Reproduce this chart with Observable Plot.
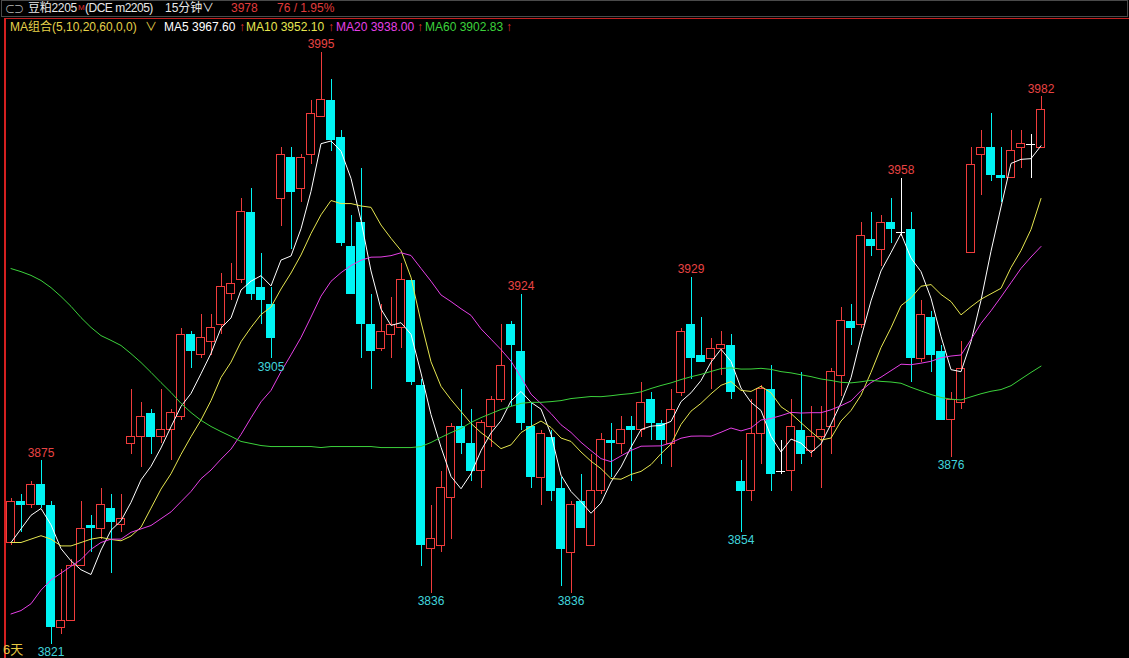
<!DOCTYPE html>
<html>
<head>
<meta charset="utf-8">
<script src="https://cdn.jsdelivr.net/npm/d3@7"></script>
<script src="https://cdn.jsdelivr.net/npm/@observablehq/plot@0.6"></script>
<style>
  html, body { margin: 0; padding: 0; background: #000; }
  body { width: 1129px; height: 658px; position: relative; overflow: hidden;
         font-family: "Liberation Sans", "Noto Sans CJK SC", sans-serif; font-size: 12px; }
  .t { position: absolute; white-space: nowrap; line-height: 13px; }
  #bar { position: absolute; left: 1px; top: 0; width: 1125px; height: 15px; border: 1px solid #4a4a4a; }
  #hline { position: absolute; left: 4px; top: 18px; width: 1125px; height: 1px; background: #c42020; }
  #vline { position: absolute; left: 4px; top: 18px; width: 2px; height: 640px; background: #d42020; }
  #chart { position: absolute; left: 0; top: 36px; }
</style>
</head>
<body>
<div id="bar"></div>
<div id="hline"></div>
<div id="vline"></div>
<div id="header"></div>
<div id="chart"></div>
<script>
// 15-minute bars, soybean meal m2205
const opens = [3851,3863,3862,3868,3862,3826,3828,3844,3856,3855, 3861,3856,3880,3882,3889,3882,3884,3888,3912,3906,
  3910,3915,3924,3928,3948,3926,3921,3952,3964,3955, 3965,3976,3981,3970,3938,3945,3915,3908,3912,3914,
  3928,3897,3849,3850,3864,3885,3880,3872,3885,3893, 3915,3907,3885,3870,3882,3867,3848,3863,3850,3866,
  3881,3880,3885,3884,3893,3886,3880,3895,3915,3906, 3905,3908,3909,3869,3866,3883,3896,3872,3872,3884,
  3878,3882,3885,3900,3916,3915,3940,3937,3945,3942, 3943,3905,3917,3907,3887,3892,3936,3965,3967,3959,
  3958,3967,3968,3967];
const highs = [3864,3865,3869,3875,3863,3843,3846,3863,3859,3867, 3865,3865,3896,3892,3890,3896,3890,3914,3913,3918,
  3918,3930,3933,3952,3955,3936,3926,3967,3967,3965, 3981,3995,3987,3972,3947,3961,3924,3921,3923,3933,
  3928,3899,3862,3872,3886,3896,3890,3887,3894,3915, 3916,3924,3892,3884,3884,3870,3863,3871,3877,3883,
  3886,3888,3888,3898,3895,3887,3896,3914,3929,3917, 3911,3913,3912,3875,3893,3897,3903,3881,3893,3901,
  3891,3891,3902,3920,3921,3945,3948,3947,3952,3958, 3948,3922,3919,3909,3895,3910,3967,3972,3977,3967,
  3972,3972,3971,3982];
const lows = [3850,3854,3861,3861,3821,3824,3828,3844,3848,3852, 3842,3854,3877,3873,3877,3880,3875,3887,3902,3905,
  3906,3912,3922,3927,3922,3915,3905,3944,3937,3951, 3962,3976,3966,3938,3924,3905,3896,3907,3905,3908,
  3897,3844,3836,3848,3852,3877,3869,3867,3879,3892, 3891,3884,3867,3862,3863,3838,3836,3855,3850,3865,
  3870,3877,3869,3882,3881,3874,3873,3894,3899,3904, 3896,3900,3893,3854,3863,3874,3866,3871,3866,3874,
  3876,3867,3877,3894,3909,3914,3935,3932,3939,3941, 3898,3904,3901,3887,3876,3890,3936,3953,3957,3951,
  3958,3961,3958,3967];
const closes = [3863,3862,3868,3862,3826,3828,3844,3855,3855,3862, 3857,3858,3882,3888,3882,3884,3889,3912,3907,3911,
  3914,3926,3927,3948,3924,3922,3911,3965,3954,3964, 3977,3981,3969,3939,3924,3915,3907,3913,3915,3928,
  3898,3850,3852,3867,3885,3880,3872,3886,3893,3903, 3909,3886,3870,3883,3866,3849,3862,3855,3866,3881,
  3880,3884,3884,3892,3886,3881,3890,3913,3905,3904, 3908,3909,3895,3866,3883,3896,3871,3872,3885,3877,
  3882,3884,3901,3916,3914,3941,3938,3945,3943,3942, 3905,3918,3906,3887,3893,3902,3962,3967,3959,3958,
  3966,3968,3968,3978];

// Moving-average values for the first bars, whose windows reach back before this range
const ma5Lead  = [3851, 3855, 3859, 3861];
const ma10Lead = [3851, 3851, 3852, 3853, 3852, 3850, 3850, 3851, 3852];
const ma20Lead = [3830, 3831, 3833, 3837, 3840, 3842, 3844, 3846, 3849, 3851,
  3852, 3852, 3854, 3855, 3856, 3858, 3860, 3863, 3866];
const ma60Lead = [3931.5, 3930.6, 3929.5, 3928.0, 3925.9, 3923.3, 3920.4, 3917.1, 3914.2, 3911.8,
  3910.4, 3908.9, 3906.5, 3903.9, 3901.0, 3898.0, 3895.1, 3891.9, 3889.2, 3886.9,
  3885.1, 3883.6, 3882.2, 3880.7, 3880.1, 3879.5, 3879.2, 3879.2, 3879.2, 3879.2,
  3879.2, 3878.9, 3879.2, 3879.2, 3879.2, 3879.2, 3879.2, 3878.9, 3878.9, 3878.9,
  3878.9, 3879.2, 3880.4, 3881.9, 3883.3, 3884.5, 3886.3, 3887.7, 3888.9, 3890.1,
  3891.0, 3891.9, 3892.2, 3892.2, 3892.4, 3892.7, 3893.3, 3893.6, 3893.9];

// Bars whose high / low carries a price tag
const highTagBars = [3, 31, 51, 68, 89, 103];
const lowTagBars = [4, 26, 42, 56, 73, 94];

const prevSettle = 3902;
const maPeriods = [5, 10, 20, 60];

const UP = "#f03c3c", DOWN = "#00f4f4", FLAT = "#ffffff";
const MA_COLORS = ["#ffffff", "#e6e650", "#e640e6", "#3cd23c"];
const FONT = "Liberation Sans, Noto Sans CJK SC, sans-serif";

const candles = d3.range(closes.length).map(i => ({i, open: opens[i], high: highs[i], low: lows[i], close: closes[i]}));
const ups = candles.filter(d => d.close > d.open);
const downs = candles.filter(d => d.close < d.open);
const flats = candles.filter(d => d.close === d.open);

function movingAverage(k, lead) {
  return closes.map((_, i) => i < k - 1 ? lead[i] : d3.mean(closes.slice(i - k + 1, i + 1)));
}
const maSeries = [movingAverage(5, ma5Lead), movingAverage(10, ma10Lead),
                  movingAverage(20, ma20Lead), movingAverage(60, ma60Lead)];
const maRows = maSeries.map(s => s.map((v, i) => ({i, v})));

const highTags = highTagBars.map(i => ({i, v: highs[i]}));
const lowTags = lowTagBars.map(i => ({i, v: lows[i]}));

// Header rows
const last = closes[closes.length - 1];
const chg = last - prevSettle;
const n = closes.length;
const headerItems = [
  {x: 5, y: 3, text: "⊂⊃", color: "#b8b8b8", size: 10, ls: -1},
  {x: 28, y: 2, text: "豆粕2205", color: "#e8e8e8", size: 12, ls: -0.3},
  {x: 78, y: 1, text: "M", color: "#e03030", size: 8},
  {x: 85, y: 2, text: "(DCE m2205)", color: "#e8e8e8", size: 12, ls: -0.5},
  {x: 165, y: 2, text: "15分钟", color: "#e8e8e8", size: 12},
  {x: 202, y: 2, text: "∨", color: "#e8e8e8", size: 12},
  {x: 231, y: 2, text: String(last), color: "#e03c3c", size: 12},
  {x: 277, y: 2, text: `${chg} / ${(chg / prevSettle * 100).toFixed(2)}%`, color: "#e03c3c", size: 12},
  {x: 10, y: 21, text: `MA组合(${maPeriods.join(",")},0,0)`, color: "#e6d24a", size: 12},
  {x: 145, y: 21, text: "∨", color: "#e6d24a", size: 12}
];
const maTextX = [164, 246, 336, 425];
const arrowX = [239, 328, 417, 506];
maPeriods.forEach((p, k) => {
  headerItems.push({x: maTextX[k], y: 21, text: `MA${p} ${maSeries[k][n - 1].toFixed(2)}`, color: MA_COLORS[k], size: 12});
  headerItems.push({x: arrowX[k], y: 21, text: "↑", color: "#e03030", size: 12});
});
headerItems.push({x: 3, y: 643, text: "6天", color: "#e6c840", size: 13});

const header = document.getElementById("header");
for (const h of headerItems) {
  const s = document.createElement("span");
  s.className = "t";
  s.textContent = h.text;
  s.style.left = h.x + "px";
  s.style.top = h.y + "px";
  s.style.color = h.color;
  s.style.fontSize = h.size + "px";
  if (h.ls) s.style.letterSpacing = h.ls + "px";
  header.appendChild(s);
}

const yMin = d3.min(lows), yMax = d3.max(highs);
const chart = Plot.plot({
  width: 1129,
  height: 622,
  margin: 0,
  style: {background: "transparent", overflow: "visible"},
  x: {domain: [0, n - 1], range: [10.5, 1040.5], axis: null},
  y: {domain: [yMin, yMax], range: [608.1, 16], axis: null},
  marks: [
    // wicks
    Plot.ruleX(ups, {x: "i", y1: "low", y2: "high", stroke: UP, shapeRendering: "crispEdges"}),
    Plot.ruleX(downs, {x: "i", y1: "low", y2: "high", stroke: DOWN, shapeRendering: "crispEdges"}),
    Plot.ruleX(flats, {x: "i", y1: "low", y2: "high", stroke: FLAT, shapeRendering: "crispEdges"}),
    // bodies: hollow for rising bars, filled for falling bars
    Plot.rect(ups, {x1: d => d.i - 0.4, x2: d => d.i + 0.4, y1: "open", y2: "close",
      fill: "#000", stroke: UP, strokeWidth: 1, shapeRendering: "crispEdges"}),
    Plot.rect(downs, {x1: d => d.i - 0.45, x2: d => d.i + 0.45, y1: "open", y2: "close",
      fill: DOWN, shapeRendering: "crispEdges"}),
    Plot.ruleY(flats, {y: "close", x1: d => d.i - 0.45, x2: d => d.i + 0.45, stroke: FLAT, shapeRendering: "crispEdges"}),
    // moving averages
    ...maRows.map((rows, k) => Plot.line(rows, {x: "i", y: "v", stroke: MA_COLORS[k], strokeWidth: 1})),
    // price tags at swing highs and lows
    Plot.text(highTags, {x: "i", y: "v", text: d => String(d.v), dy: -8, fill: "#e84444",
      fontSize: 12, fontFamily: FONT}),
    Plot.text(lowTags, {x: "i", y: "v", text: d => String(d.v), dy: 8, fill: "#40d4dc",
      fontSize: 12, fontFamily: FONT})
  ]
});
document.getElementById("chart").appendChild(chart);
</script>
</body>
</html>
